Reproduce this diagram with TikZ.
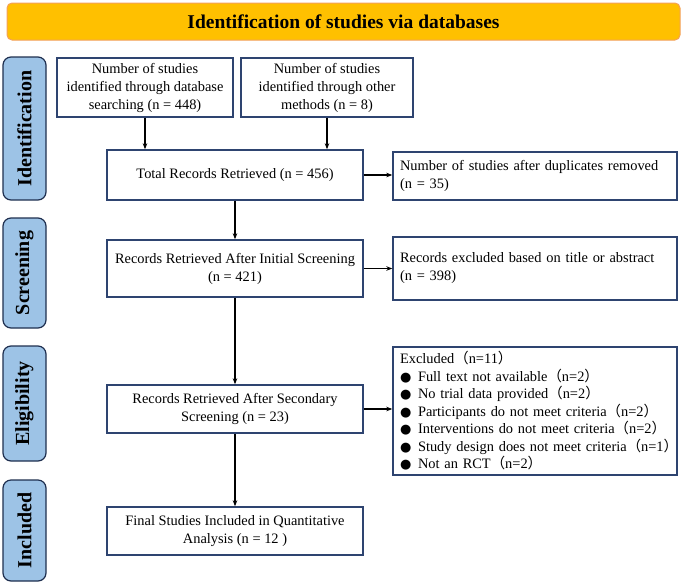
\documentclass[tikz,border=0pt]{standalone}
\usepackage{fontspec}
\setmainfont{Liberation Serif}
\newfontfamily\cjk{Noto Sans CJK SC}
\newfontfamily\sym{DejaVu Sans}
\usetikzlibrary{arrows.meta}
\definecolor{navy}{HTML}{2E4470}
\definecolor{gold}{HTML}{FFC000}
\definecolor{goldedge}{HTML}{F4A15A}
\definecolor{sideblue}{HTML}{9DC3E6}
\definecolor{sideedge}{HTML}{1F2F4F}
\newcommand{\lp}{{\cjk （}}
\newcommand{\rp}{{\cjk ）}}
\newcommand{\bul}{\makebox[18pt][l]{\sym\fontsize{13}{13}\selectfont ●}}
\begin{document}
\begin{tikzpicture}[x=1pt,y=-1pt,
  every node/.style={font=\fontsize{14.4}{18}\selectfont},
  box/.style={draw=navy,line width=1.4pt,fill=white,align=center,inner sep=2pt},
  leftbox/.style={draw=navy,line width=1.4pt,fill=white,align=left,inner xsep=7pt,inner ysep=2pt},
  side/.style={draw=sideedge,line width=1.2pt,fill=sideblue,rounded corners=8pt,rotate=90,
     font=\fontsize{20}{22}\selectfont\bfseries,minimum height=43pt,inner sep=0pt},
  arr/.style={-{Stealth[length=6pt,width=4.5pt]},line width=1.2pt,black}]
\useasboundingbox (0,0) rectangle (685,587);
% banner
\node[draw=goldedge,line width=1pt,fill=gold,rounded corners=5pt,minimum width=673pt,minimum height=37pt,
  font=\fontsize{19.5}{22}\selectfont\bfseries] (banner) at (343.5,21.5) {Identification of studies via databases};
% side labels
\node[side,minimum width=143pt] (sid) at (24.5,128.5) {Identification};
\node[side,minimum width=110pt] (sscr) at (24.5,273) {Screening};
\node[side,minimum width=115pt] (selg) at (24.5,403.5) {Eligibility};
\node[side,minimum width=101pt] (sinc) at (24.5,530.5) {Included};
% main boxes
\node[box,minimum width=176pt,minimum height=59pt] (b1) at (145,87.5)
  {Number of studies\\identified through database\\searching (n = 448)};
\node[box,minimum width=172pt,minimum height=59pt] (b2) at (327,87.5)
  {Number of studies\\identified through other\\methods (n = 8)};
\node[box,minimum width=256pt,minimum height=50pt] (b3) at (235,175)
  {Total Records Retrieved (n = 456)};
\node[leftbox,minimum width=284pt,minimum height=48pt,text width=270pt] (dup) at (535,176)
  {Number of studies after duplicates removed\\(n = 35)};
\node[box,minimum width=256pt,minimum height=57pt] (b4) at (235,268.5)
  {Records Retrieved After Initial Screening\\(n = 421)};
\node[leftbox,minimum width=284pt,minimum height=63pt,text width=270pt] (exc) at (535,268.5)
  {Records excluded based on title or abstract\\(n = 398)};
\node[box,minimum width=256pt,minimum height=48pt] (b5) at (235,409)
  {Records Retrieved After Secondary\\Screening (n = 23)};
\node[leftbox,minimum width=284pt,minimum height=128pt,text width=270pt,
  font=\fontsize{14.4}{17.5}\selectfont] (lst) at (535,411)
  {\mbox{Excluded\lp n=11\rp}\\
   \mbox{\bul Full text not available\lp n=2\rp}\\
   \mbox{\bul No trial data provided\lp n=2\rp}\\
   \mbox{\bul Participants do not meet criteria\lp n=2\rp}\\
   \mbox{\bul Interventions do not meet criteria\lp n=2\rp}\\
   \mbox{\bul Study design does not meet criteria\lp n=1\rp}\\
   \mbox{\bul Not an RCT\lp n=2\rp}};
\node[box,minimum width=256pt,minimum height=48pt] (b6) at (235,531)
  {Final Studies Included in Quantitative\\Analysis (n = 12 )};
% arrows
\draw[arr] (b1.south) -- (b1.south |- b3.north);
\draw[arr] (b2.south) -- (b2.south |- b3.north);
\draw[arr] (b3.east) -- (dup.west |- b3.east);
\draw[arr] (b3.south) -- (b4.north);
\draw[arr] (b4.east) -- (exc.west |- b4.east);
\draw[arr] (b4.south) -- (b5.north);
\draw[arr] (b5.east) -- (lst.west |- b5.east);
\draw[arr] (b5.south) -- (b6.north);
\end{tikzpicture}
\end{document}
